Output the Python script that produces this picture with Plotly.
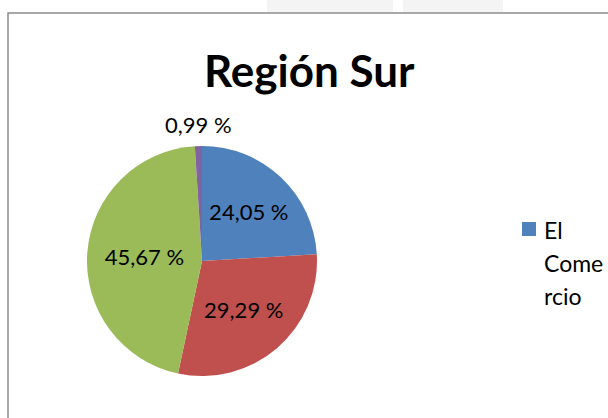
import math
import plotly.graph_objects as go

categories = ["El Comercio", "Serie 2", "Serie 3", "Serie 4"]
values = [24.05, 29.29, 45.67, 0.99]
text_labels = ["24,05 %", "29,29 %", "45,67 %", "0,99 %"]
colors = ["#4F81BD", "#C0504D", "#9BBB59", "#8064A2"]
title_text = "Región Sur"
legend_lines = ["El", "Come", "rcio"]

W, H = 608, 418
cx, cy, r = 202, 261, 115

inside = ["inside", "inside", "inside", "none"]
pie_text = [t if p == "inside" else "" for t, p in zip(text_labels, inside)]

fig = go.Figure()
fig.add_trace(go.Pie(
    labels=categories,
    values=values,
    text=pie_text,
    textinfo="text",
    textposition=["inside" if p == "inside" else "none" for p in inside],
    insidetextorientation="horizontal",
    sort=False,
    direction="clockwise",
    rotation=0,
    marker=dict(colors=colors, line=dict(width=0)),
    textfont=dict(family="Lato", size=22, color="black"),
    showlegend=False,
    domain=dict(x=[(cx - r) / W, (cx + r) / W], y=[1 - (cy + r) / H, 1 - (cy - r) / H]),
    hoverinfo="skip",
))

shapes = [
    dict(type="rect", xref="paper", yref="paper", x0=267 / W, x1=393 / W, y0=1 - 12 / H, y1=1.02,
         fillcolor="#f4f4f4", line=dict(width=0), layer="below"),
    dict(type="rect", xref="paper", yref="paper", x0=403 / W, x1=503 / W, y0=1 - 12 / H, y1=1.02,
         fillcolor="#f4f4f4", line=dict(width=0), layer="below"),
    dict(type="rect", xref="paper", yref="paper", x0=8 / W, x1=1.05, y0=-0.05, y1=1 - 13 / H,
         line=dict(color="#8c8c8c", width=1.5), fillcolor="white", layer="below"),
    dict(type="rect", xref="paper", yref="paper", x0=522 / W, x1=536 / W, y0=1 - 236 / H, y1=1 - 222 / H,
         fillcolor=colors[0], line=dict(width=0)),
]

annotations = [
    dict(text="<b>" + title_text + "</b>", x=310 / W, y=1 - 70 / H, xref="paper", yref="paper",
         showarrow=False, xanchor="center", yanchor="middle",
         font=dict(family="Lato", size=44, color="black")),
]

# outside labels placed from the slice mid-angles
total = sum(values)
cum = 0.0
for v, t, p in zip(values, text_labels, inside):
    mid = (cum + v / 2) / total * 2 * math.pi
    cum += v
    if p == "inside":
        continue
    px = cx + (r + 6) * math.sin(mid)
    py = cy - (r + 6) * math.cos(mid)
    annotations.append(dict(text=t, x=px / W, y=1 - py / H, xref="paper", yref="paper",
                            showarrow=False, xanchor="center", yanchor="bottom",
                            font=dict(family="Lato", size=22, color="black")))

for i, line in enumerate(legend_lines):
    annotations.append(dict(text=line, x=542 / W, y=1 - (230 + 33 * i) / H, xref="paper", yref="paper",
                            showarrow=False, xanchor="left", yanchor="middle",
                            font=dict(family="Lato", size=23, color="black")))

fig.update_layout(
    width=W, height=H,
    margin=dict(l=0, r=0, t=0, b=0),
    paper_bgcolor="white",
    plot_bgcolor="white",
    shapes=shapes,
    annotations=annotations,
)

fig.write_html("out.html", config={"displayModeBar": False},
               post_script="document.body.style.margin='0';document.body.style.overflow='hidden';")
